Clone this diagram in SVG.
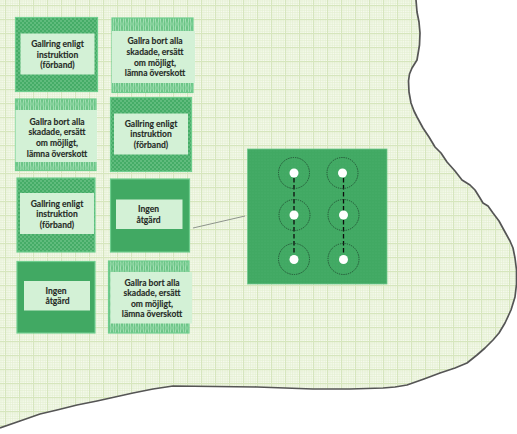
<svg xmlns="http://www.w3.org/2000/svg" width="517" height="434" viewBox="0 0 517 434">
<style>
.t{font-family:"Lato","Liberation Sans",sans-serif;font-weight:700;font-size:8.500px;fill:#262b26;text-anchor:middle;stroke:#262b26;stroke-width:.12}
.b{stroke:#6fce8e;stroke-width:1.2}
.lt{fill:#d3f1d6}
.ring{fill:none;stroke:#1f4a30;stroke-width:.9;stroke-dasharray:1.3 1}
.dot{fill:#fff}
.dash{fill:none;stroke:#0d0d0d;stroke-width:1.3;stroke-dasharray:4.500 2.500}
.edge{fill:none;stroke:#555;stroke-width:1.700;stroke-linejoin:round}
</style>
<defs>
<pattern id="grid" width="14" height="14" patternUnits="userSpaceOnUse">
<rect width="14" height="14" fill="#f6faee"/>
<path d="M1 0V14M3.300 0V14M5.600 0V14M8 0V14M10.300 0V14M12.600 0V14M0 1H14M0 3.300H14M0 5.600H14M0 8H14M0 10.300H14M0 12.600H14" stroke="#e2eed0" stroke-width=".7" fill="none"/>
<path d="M5.600 0V14M0 5.600H14" stroke="#d6e6bd" stroke-width="1.100" fill="none"/>
</pattern>
<pattern id="dots" width="4" height="4" patternUnits="userSpaceOnUse">
<rect width="4" height="4" fill="#45ac67"/>
<circle cx="1" cy="1" r=".7" fill="#8fd6a4"/>
<circle cx="3" cy="3" r=".7" fill="#8fd6a4"/>
</pattern>
<pattern id="waves" width="5" height="8" patternUnits="userSpaceOnUse">
<rect width="5" height="8" fill="#6cc587"/>
<path d="M1 0Q-.2 4 1 8M3 0Q4.400 4 3 8" stroke="#b3e6c0" stroke-width=".8" fill="none"/>
</pattern>
<pattern id="fine" width="3" height="3" patternUnits="userSpaceOnUse">
<rect width="3" height="3" fill="#41a963"/>
<circle cx="1" cy="1" r=".6" fill="#4cb06d"/>
</pattern>
</defs>
<rect width="517" height="434" fill="#fff"/>
<g id="terrain">
<path d="M0 0H416L417 12L419 22L420 33L419.500 45L417 60L412 68L409.500 74L408.500 81L409 92L411 103L414 111L417 117L423 128L429 137L435 147L441 153L447 162L455 171L462 180L470 185L475 190L480 198L483 203L488 206L493 213L499 221L505 232L510 241L513 248L515 258L516.500 270L516.500 284L515 297L511 310L505 323L499 333L493 340L485 348L477 355L467 363L455 368L440 373L424 379L407 385L395 387L383 388L350 389L313 389L285 388L257 387L215 386.500L173 386L153 389L133 393L115 397L97 401L77 405L57 410L40 414L20 421L0 428Z" fill="url(#grid)"/>
<path class="edge" d="M416 0L417 12L419 22L420 33L419.500 45L417 60L412 68L409.500 74L408.500 81L409 92L411 103L414 111L417 117L423 128L429 137L435 147L441 153L447 162L455 171L462 180L470 185L475 190L480 198L483 203L488 206L493 213L499 221L505 232L510 241L513 248L515 258L516.500 270L516.500 284L515 297L511 310L505 323L499 333L493 340L485 348L477 355L467 363L455 368L440 373L424 379L407 385L395 387L383 388L350 389L313 389L285 388L257 387L215 386.500L173 386L153 389L133 393L115 397L97 401L77 405L57 410L40 414L20 421L0 428"/>
</g>
<g id="connectors">
<path d="M193 228L245 216" stroke="#8d948b" stroke-width="1" fill="none"/>
</g>
<g id="node-1">
<rect class="b" x="15.500" y="17.500" width="82" height="74" fill="url(#dots)"/>
<rect class="lt" x="20.500" y="33.500" width="74" height="41"/>
<text class="t" x="57.500" y="47">Gallring enligt</text>
<text class="t" x="57.500" y="57.500">instruktion</text>
<text class="t" x="57.500" y="68">(förband)</text>
</g>
<g id="node-2">
<rect class="b" x="112" y="18" width="81" height="74.500" fill="url(#waves)"/>
<rect class="lt" x="112" y="31" width="83" height="52"/>
<text class="t" x="155" y="43.500">Gallra bort alla</text>
<text class="t" x="155" y="54.500">skadade, ersätt</text>
<text class="t" x="155" y="65.500">om möjligt,</text>
<text class="t" x="155" y="76">lämna överskott</text>
</g>
<g id="node-3">
<rect class="b" x="15.500" y="99" width="80.500" height="71.500" fill="url(#waves)"/>
<rect class="lt" x="15.500" y="110" width="81.500" height="52"/>
<text class="t" x="57" y="124.500">Gallra bort alla</text>
<text class="t" x="57" y="135">skadade, ersätt</text>
<text class="t" x="57" y="146">om möjligt,</text>
<text class="t" x="57" y="156.500">lämna överskott</text>
</g>
<g id="node-4">
<rect class="b" x="110.500" y="97.500" width="81" height="74" fill="url(#dots)"/>
<rect class="lt" x="114" y="113.500" width="74" height="41"/>
<text class="t" x="151" y="127">Gallring enligt</text>
<text class="t" x="151" y="137">instruktion</text>
<text class="t" x="151" y="148">(förband)</text>
</g>
<g id="node-5">
<rect class="b" x="17" y="178" width="78" height="74" fill="url(#dots)"/>
<rect class="lt" x="20" y="193" width="74" height="41"/>
<text class="t" x="57" y="206.500">Gallring enligt</text>
<text class="t" x="57" y="217">instruktion</text>
<text class="t" x="57" y="228">(förband)</text>
</g>
<g id="node-6">
<rect class="b" x="110.500" y="179" width="79" height="73" fill="#41a963"/>
<rect class="lt" x="116" y="199.500" width="66.500" height="29.500"/>
<text class="t" x="148.500" y="212">Ingen</text>
<text class="t" x="148.500" y="222.500">åtgärd</text>
</g>
<g id="node-7">
<rect class="b" x="17" y="261.500" width="78" height="71.500" fill="#41a963"/>
<rect class="lt" x="24" y="281" width="66" height="29.500"/>
<text class="t" x="56" y="294">Ingen</text>
<text class="t" x="57.500" y="304">åtgärd</text>
</g>
<g id="node-8">
<rect class="b" x="108.500" y="261" width="80.500" height="72" fill="url(#waves)"/>
<rect class="lt" x="110.500" y="272" width="81.500" height="51.500"/>
<text class="t" x="152" y="285.500">Gallra bort alla</text>
<text class="t" x="152" y="295.500">skadade, ersätt</text>
<text class="t" x="152" y="306.500">om möjligt,</text>
<text class="t" x="152" y="316.500">lämna överskott</text>
</g>
<g id="node-detail">
<rect x="247.500" y="149" width="139.500" height="135" fill="url(#fine)" stroke="#70c98c" stroke-width=".8"/>
<path class="dash" d="M294 178V255M343.500 178V255"/>
<circle class="ring" cx="294" cy="173" r="15.500"/>
<circle class="ring" cx="342.500" cy="173" r="15.500"/>
<circle class="ring" cx="294.500" cy="215" r="15.500"/>
<circle class="ring" cx="343.500" cy="215" r="15.500"/>
<circle class="ring" cx="294" cy="259" r="15.500"/>
<circle class="ring" cx="343.500" cy="259" r="15.500"/>
<circle class="dot" cx="294" cy="173" r="4.500"/>
<circle class="dot" cx="342.500" cy="173" r="4.500"/>
<circle class="dot" cx="294" cy="215" r="4.500"/>
<circle class="dot" cx="343.500" cy="215" r="4.500"/>
<circle class="dot" cx="294" cy="259.500" r="4.500"/>
<circle class="dot" cx="343.500" cy="259.500" r="4.500"/>
</g>
</svg>
